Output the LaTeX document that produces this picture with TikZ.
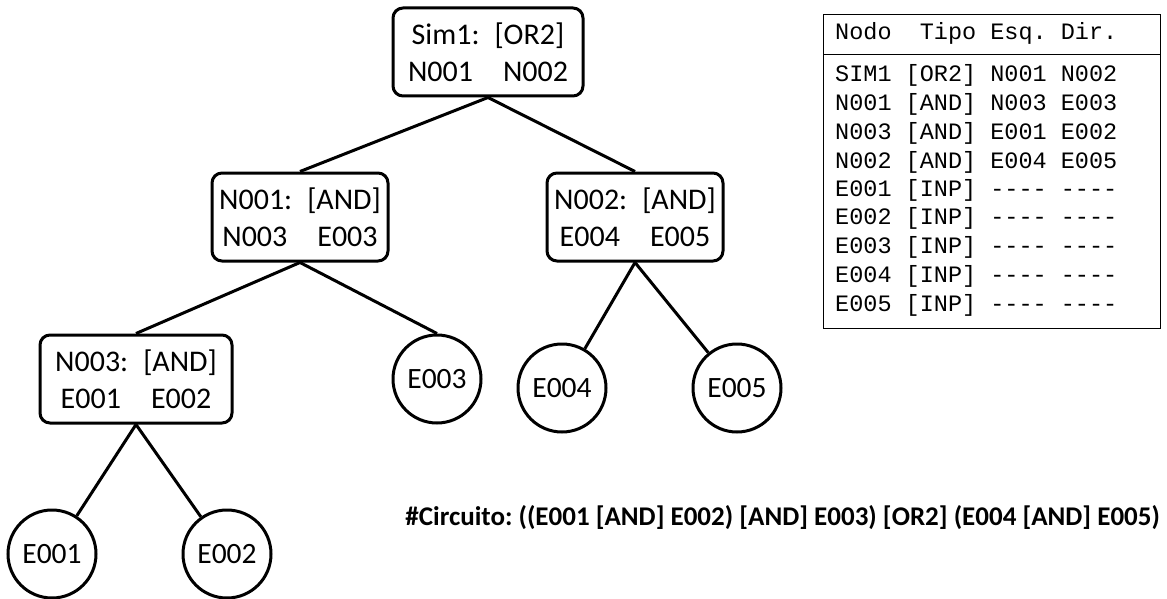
\documentclass[tikz,border=0pt]{standalone}
\usepackage{fontspec}
\setmainfont{Carlito}
\setmonofont{Liberation Mono}
\usetikzlibrary{positioning}

\tikzset{
  gate/.style={draw,line width=3pt,rounded corners=10pt,minimum width=176pt,minimum height=88pt,align=center,inner sep=0pt,font=\fontsize{30}{37}\selectfont},
  inp/.style={draw,line width=3pt,circle,minimum size=88pt,inner sep=0pt,font=\fontsize{29.5}{35}\selectfont},
  wire/.style={line width=3pt},
  row/.style={anchor=west,inner sep=0pt,font=\fontsize{23.5}{28}\ttfamily}
}

\begin{document}
\frenchspacing
\begin{tikzpicture}[x=1pt,y=-1pt]
\useasboundingbox (0,0) rectangle (1167,599);

% tree
\node[gate,minimum width=190pt] (sim) at (488,52) {Sim1:\hspace{0.5em}[OR2]\\N001\hspace{1em}N002};
\node[gate] (n1) at (300,217) {N001:\hspace{0.5em}[AND]\\N003\hspace{1em}E003};
\node[gate] (n2) at (635,217) {N002:\hspace{0.5em}[AND]\\E004\hspace{1em}E005};
\node[gate,minimum width=192pt] (n3) at (136,379) {N003:\hspace{0.5em}[AND]\\E001\hspace{1em}E002};

\node[inp] (e3) at (437,379) {E003};
\node[inp] (e4) at (562,388) {E004};
\node[inp] (e5) at (737,388) {E005};
\node[inp] (e1) at (52,554) {E001};
\node[inp] (e2) at (227,554) {E002};

\draw[wire] (sim.south) -- (n1.north);
\draw[wire] (sim.south) -- (n2.north);
\draw[wire] (n1.south) -- (n3.north);
\draw[wire] (n1.south) -- (e3.north);
\draw[wire] (n2.south) -- (e4);
\draw[wire] (n2.south) -- (e5);
\draw[wire] (n3.south) -- (e1);
\draw[wire] (n3.south) -- (e2);

% table
\draw[line width=1pt] (823,15) rectangle (1160,328);
\draw[line width=1pt] (823,55) -- (1160,55);
\node[row] (hd) at (835,33) {Nodo~~Tipo Esq. Dir.};
\foreach \y/\txt [count=\i] in {75/SIM1 [OR2] N001 N002,
    104/N001 [AND] N003 E003,
    133/N003 [AND] E001 E002,
    162/N002 [AND] E004 E005,
    190/E001 [INP] ---- ----,
    218/E002 [INP] ---- ----,
    247/E003 [INP] ---- ----,
    276/E004 [INP] ---- ----,
    305/E005 [INP] ---- ----}
  \node[row] (r\i) at (835,\y) {\txt};

% expression
\node[anchor=east,inner sep=0pt,font=\fontsize{27}{30}\bfseries] (circ) at (1160,518)
  {\#Circuito: ((E001 [AND] E002) [AND] E003) [OR2] (E004 [AND] E005)};
\end{tikzpicture}
\end{document}
